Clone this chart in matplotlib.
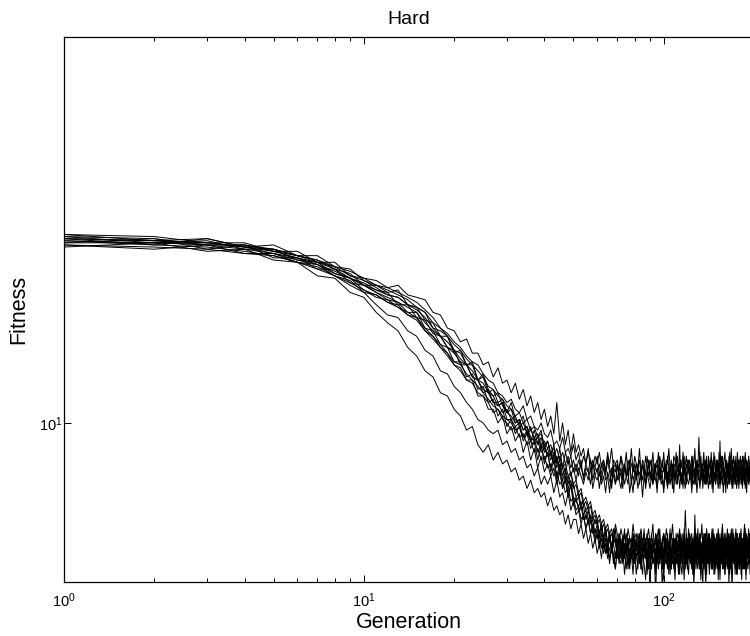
import numpy as np
import matplotlib
matplotlib.use("Agg")
import matplotlib.pyplot as plt
from matplotlib.ticker import LogLocator, NullFormatter, NullLocator

plt.rcParams['font.family'] = ['Liberation Sans', 'DejaVu Sans']
plt.rcParams['mathtext.fontset'] = 'custom'
plt.rcParams['mathtext.rm'] = 'Liberation Sans'
plt.rcParams['mathtext.default'] = 'regular'

# fitness per generation for each run (generation 1..200)
# runs that settle in the upper band
run_u1 = [
    16.9, 16.6, 16.9, 16.5, 16.4, 16.1, 15.9, 15.5, 15.3, 14.8,
    14.8, 14.5, 14.6, 14.0, 13.9, 13.7, 13.1, 13.0, 12.8, 12.2,
    12.3, 11.8, 11.9, 11.3, 11.5, 11.0, 10.8, 10.9, 10.5, 10.3,
    10.6, 10.1, 10.0, 10.2, 9.7, 9.9, 9.5, 9.6, 9.8, 9.3,
    9.5, 9.1, 9.4, 8.9, 9.3, 8.8, 9.2, 8.9, 9.1, 8.7,
    8.9, 8.6, 9.0, 8.5, 8.8, 8.7, 8.4, 8.9, 8.6, 8.8,
    8.3, 8.7, 8.9, 8.5, 8.6, 8.2, 8.8, 8.6, 8.4, 8.9,
    8.5, 8.7, 8.3, 8.8, 8.6, 8.4, 8.9, 8.5, 8.2, 8.7,
    8.6, 8.9, 8.4, 8.7, 8.5, 8.8, 8.3, 8.6, 9.0, 8.5,
    8.7, 8.4, 8.6, 8.9, 8.2, 8.7, 8.5, 8.8, 8.6, 8.3,
    8.8, 8.5, 8.7, 8.4, 8.9, 8.6, 8.3, 8.7, 8.5, 8.8,
    8.4, 8.6, 9.4, 8.5, 8.7, 8.3, 8.8, 8.6, 8.4, 8.7,
    8.9, 8.5, 8.6, 8.2, 8.8, 8.7, 8.4, 8.6, 8.9, 8.5,
    8.7, 8.3, 8.6, 8.8, 8.5, 8.7, 8.4, 9.0, 8.6, 8.5,
    8.8, 8.4, 8.7, 8.6, 8.3, 8.9, 8.5, 8.7, 8.4, 8.8,
    8.6, 8.5, 8.9, 8.3, 8.7, 8.6, 8.4, 8.8, 8.5, 8.7,
    8.2, 8.8, 8.6, 8.5, 8.9, 8.4, 8.7, 8.6, 8.3, 8.8,
    8.5, 8.7, 8.4, 8.9, 8.6, 8.5, 8.8, 8.3, 8.7, 8.6,
    8.9, 8.4, 8.6, 8.7, 8.5, 8.8, 8.3, 8.6, 8.9, 8.5,
    8.7, 8.4, 8.8, 8.6, 8.5, 8.7, 8.4, 8.9, 8.6, 8.5,
]
run_u2 = [
    17.1, 16.8, 16.9, 16.5, 16.6, 16.1, 16.1, 15.6, 15.5, 15.0,
    14.8, 14.7, 14.5, 14.3, 14.1, 13.8, 13.5, 13.1, 12.9, 12.6,
    12.4, 12.1, 11.9, 11.8, 11.5, 11.3, 11.2, 10.9, 10.8, 10.6,
    10.7, 10.4, 10.3, 10.5, 10.1, 10.2, 9.9, 9.8, 10.0, 9.7,
    9.6, 9.8, 9.4, 9.5, 9.3, 9.6, 9.2, 9.3, 9.1, 9.4,
    9.0, 9.2, 8.8, 9.1, 8.9, 9.3, 8.7, 9.0, 8.8, 9.1,
    8.6, 8.9, 9.0, 8.7, 9.2, 8.8, 8.6, 9.0, 8.9, 8.5,
    8.8, 9.1, 8.7, 8.9, 8.6, 9.0, 8.8, 9.3, 8.7, 8.9,
    8.5, 8.8, 9.0, 8.6, 8.9, 8.7, 9.1, 8.8, 8.6, 8.9,
    9.0, 8.7, 8.5, 8.9, 8.8, 9.2, 8.6, 8.8, 9.0, 8.7,
    8.9, 8.6, 9.1, 8.8, 8.7, 9.0, 8.5, 8.9, 8.8, 9.2,
    8.7, 8.9, 8.6, 9.0, 8.8, 8.7, 9.1, 8.6, 8.9, 8.8,
    9.0, 8.7, 8.9, 8.5, 9.1, 8.8, 8.6, 9.0, 8.7, 8.9,
    8.8, 9.2, 8.6, 8.9, 8.7, 9.0, 8.8, 8.5, 9.1, 8.7,
    8.9, 8.8, 9.0, 8.6, 8.9, 8.7, 9.2, 8.8, 8.6, 9.0,
    8.7, 8.9, 8.5, 9.5, 8.8, 8.7, 9.1, 8.9, 8.6, 8.8,
    9.0, 8.7, 8.9, 8.8, 8.6, 9.2, 8.7, 8.9, 9.0, 8.6,
    8.8, 8.9, 8.7, 9.1, 8.6, 8.8, 9.0, 8.7, 8.9, 8.8,
    8.6, 9.0, 8.8, 8.7, 9.1, 8.9, 8.6, 8.8, 9.0, 8.7,
    8.9, 8.8, 8.6, 9.0, 8.7, 8.9, 9.1, 8.8, 8.6, 8.9,
]
run_u3 = [
    16.7, 16.9, 16.4, 16.6, 16.0, 16.0, 15.5, 15.5, 14.9, 14.8,
    14.5, 14.3, 14.1, 13.9, 13.7, 13.3, 13.0, 12.8, 12.4, 12.2,
    11.9, 11.8, 11.4, 11.3, 11.0, 10.9, 10.6, 10.6, 10.3, 10.4,
    10.1, 10.2, 9.9, 10.0, 9.7, 9.8, 9.6, 9.7, 9.4, 9.5,
    9.3, 9.4, 9.1, 9.3, 9.0, 9.2, 8.9, 9.1, 8.8, 9.0,
    8.7, 9.0, 8.8, 8.6, 8.9, 8.7, 9.0, 8.5, 8.8, 8.7,
    8.9, 8.5, 8.8, 8.6, 9.0, 8.7, 8.4, 8.8, 8.7, 8.9,
    8.6, 8.8, 8.5, 8.9, 8.7, 8.6, 9.0, 8.4, 8.8, 8.7,
    8.9, 8.6, 8.7, 8.5, 8.9, 8.8, 8.4, 8.7, 8.9, 8.6,
    8.8, 8.5, 8.9, 8.7, 8.6, 8.8, 9.0, 8.5, 8.7, 8.8,
    8.6, 8.9, 8.4, 8.8, 8.7, 8.5, 8.9, 8.6, 8.8, 8.7,
    8.5, 8.8, 8.9, 8.6, 8.4, 8.9, 8.7, 8.8, 8.5, 9.0,
    8.7, 8.6, 8.8, 8.9, 8.5, 8.7, 8.8, 8.4, 8.9, 8.6,
    8.8, 8.7, 8.5, 8.9, 8.6, 8.8, 8.7, 8.9, 8.4, 8.7,
    8.6, 8.9, 8.8, 8.5, 8.7, 8.9, 8.6, 8.5, 8.8, 8.7,
    8.9, 8.6, 8.7, 8.8, 8.4, 8.9, 8.7, 8.6, 8.8, 8.5,
    8.7, 8.9, 8.6, 8.8, 8.7, 8.5, 8.9, 8.8, 8.6, 8.7,
    8.8, 8.5, 8.9, 8.7, 8.6, 8.8, 8.4, 8.7, 8.9, 8.6,
    8.7, 8.8, 8.5, 8.9, 8.6, 8.7, 8.8, 8.5, 8.9, 8.7,
    8.6, 8.8, 8.7, 8.5, 8.9, 8.6, 8.8, 8.7, 8.5, 8.8,
]
run_u4 = [
    16.9, 16.8, 16.7, 16.5, 16.3, 16.1, 15.9, 15.6, 15.4, 15.1,
    15.0, 14.7, 14.8, 14.4, 14.3, 14.2, 13.7, 13.6, 13.1, 13.0,
    12.6, 12.7, 12.2, 12.2, 11.8, 11.9, 11.4, 11.7, 11.2, 11.3,
    10.9, 11.2, 10.7, 11.0, 10.5, 10.8, 10.3, 10.6, 10.1, 10.4,
    9.9, 10.2, 9.7, 10.6, 9.5, 10.0, 9.4, 9.8, 9.2, 9.7,
    9.2, 9.4, 9.1, 9.3, 8.9, 9.2, 9.0, 8.8, 9.1, 8.9,
    9.2, 8.8, 9.0, 8.7, 9.1, 8.9, 9.3, 8.8, 8.9, 9.0,
    8.7, 9.1, 8.9, 8.8, 9.2, 8.6, 9.0, 8.9, 8.7, 9.1,
    8.9, 8.8, 9.3, 8.7, 9.0, 8.9, 8.6, 9.1, 8.8, 9.0,
    8.8, 9.2, 8.7, 8.9, 9.0, 8.6, 9.1, 8.9, 8.8, 9.2,
    8.7, 9.0, 8.9, 9.3, 8.8, 8.9, 8.6, 9.1, 9.0, 8.8,
    9.1, 8.7, 8.9, 9.0, 8.8, 9.2, 8.7, 8.9, 9.1, 8.8,
    8.9, 9.0, 8.7, 9.1, 8.8, 8.9, 9.3, 8.7, 9.0, 8.8,
    9.6, 8.8, 9.1, 8.7, 8.9, 9.2, 8.8, 9.0, 8.9, 8.6,
    9.1, 8.9, 8.8, 9.2, 8.7, 9.0, 8.9, 9.1, 8.8, 8.9,
    9.0, 8.7, 9.2, 8.9, 8.8, 9.1, 8.9, 8.7, 9.0, 9.2,
    8.8, 9.0, 8.9, 8.7, 9.1, 8.8, 9.0, 9.3, 8.8, 8.9,
    9.1, 8.8, 9.0, 8.9, 8.7, 9.2, 8.9, 9.0, 8.8, 9.1,
    8.9, 8.7, 9.1, 9.0, 8.8, 8.9, 9.2, 8.8, 9.0, 8.9,
    8.8, 9.1, 8.9, 8.7, 9.0, 9.2, 8.8, 8.9, 9.1, 8.8,
]
run_u5 = [
    16.6, 16.5, 16.4, 16.2, 16.1, 15.8, 15.5, 15.2, 14.9, 14.6,
    14.3, 14.2, 13.9, 13.7, 13.5, 13.1, 12.8, 12.5, 12.2, 11.9,
    11.8, 11.5, 11.3, 11.1, 10.9, 10.7, 10.5, 10.4, 10.2, 10.1,
    10.0, 9.8, 9.9, 9.6, 9.7, 9.5, 9.4, 9.5, 9.2, 9.3,
    9.1, 9.2, 8.9, 9.1, 8.8, 8.9, 8.7, 9.0, 8.6, 8.8,
    8.5, 8.8, 8.6, 8.4, 8.7, 8.5, 8.8, 8.3, 8.6, 8.5,
    8.7, 8.4, 8.6, 8.2, 8.7, 8.5, 8.3, 8.8, 8.4, 8.6,
    8.5, 8.3, 8.7, 8.4, 8.6, 8.8, 8.2, 8.5, 8.6, 8.4,
    8.7, 8.3, 8.5, 8.6, 8.1, 8.6, 8.4, 8.7, 8.5, 8.3,
    8.6, 8.4, 8.7, 8.5, 8.3, 8.6, 8.8, 8.4, 8.5, 8.2,
    8.6, 8.5, 8.3, 8.7, 8.4, 8.6, 8.5, 8.2, 8.7, 8.4,
    8.5, 8.7, 8.3, 8.6, 8.4, 8.8, 8.5, 8.3, 8.6, 8.5,
    8.4, 8.6, 8.7, 8.3, 8.5, 8.4, 8.7, 8.6, 8.2, 8.5,
    8.6, 8.4, 8.5, 8.7, 8.3, 8.6, 8.5, 8.4, 8.8, 8.5,
    8.3, 8.6, 8.4, 8.5, 8.7, 8.2, 8.6, 8.5, 8.4, 8.7,
    8.5, 8.3, 8.6, 8.4, 8.7, 8.5, 8.6, 8.2, 8.5, 8.4,
    8.7, 8.5, 8.3, 8.6, 8.4, 8.5, 8.8, 8.4, 8.6, 8.3,
    8.5, 8.6, 8.4, 8.7, 8.3, 8.5, 8.6, 8.4, 8.5, 8.7,
    8.4, 8.6, 8.3, 8.5, 8.7, 8.4, 8.6, 8.5, 8.2, 8.6,
    8.5, 8.4, 8.7, 8.5, 8.3, 8.6, 8.4, 8.5, 8.7, 8.4,
]
# runs that settle in the lower band
run_l1 = [
    16.5, 16.7, 16.3, 16.4, 15.9, 15.8, 15.2, 15.1, 14.5, 14.3,
    13.7, 13.3, 13.0, 12.4, 12.1, 11.6, 11.4, 10.9, 10.8, 10.4,
    10.2, 9.8, 9.9, 9.4, 9.2, 9.4, 9.0, 9.2, 8.9, 9.0,
    8.7, 8.8, 8.5, 8.6, 8.3, 8.5, 8.2, 8.3, 8.1, 8.2,
    7.9, 8.1, 7.8, 7.9, 7.7, 7.8, 7.5, 7.7, 7.4, 7.6,
    7.6, 7.3, 7.5, 7.2, 7.4, 7.1, 7.3, 7.0, 7.2, 6.9,
    7.1, 6.8, 7.2, 6.9, 7.0, 6.7, 7.1, 6.8, 6.6, 7.0,
    6.8, 7.2, 6.7, 6.9, 7.1, 6.6, 7.0, 6.8, 7.3, 6.7,
    6.9, 6.6, 7.1, 6.8, 6.5, 7.0, 6.9, 6.7, 7.2, 6.8,
    6.6, 7.0, 6.9, 6.1, 7.1, 6.8, 6.7, 7.0, 6.6, 6.9,
    7.2, 6.7, 6.9, 6.5, 7.0, 6.8, 7.1, 6.6, 6.9, 6.7,
    7.0, 6.5, 6.9, 7.1, 6.7, 6.8, 6.4, 7.0, 6.9, 6.6,
    7.1, 6.8, 6.7, 7.0, 6.5, 6.9, 7.2, 6.6, 6.8, 7.0,
    6.7, 6.9, 6.4, 7.1, 6.8, 6.6, 7.0, 6.9, 6.5, 7.2,
    6.8, 6.7, 7.0, 6.6, 6.9, 7.1, 6.5, 6.8, 7.0, 6.7,
    6.9, 6.4, 7.1, 6.8, 6.7, 7.0, 6.6, 6.9, 7.2, 6.5,
    6.8, 7.0, 6.7, 6.9, 6.3, 7.1, 6.8, 6.6, 7.0, 6.9,
    6.7, 7.2, 6.5, 6.9, 6.8, 7.0, 6.6, 6.9, 6.7, 7.1,
    6.5, 6.9, 6.8, 7.0, 6.6, 6.7, 7.1, 6.4, 6.9, 6.8,
    7.0, 6.7, 6.9, 6.5, 7.1, 6.8, 6.6, 7.0, 6.9, 6.7,
]
run_l2 = [
    16.8, 16.6, 16.5, 16.3, 16.1, 15.8, 15.6, 15.2, 14.8, 14.5,
    14.0, 13.6, 13.5, 13.0, 12.8, 12.3, 12.1, 11.6, 11.5, 11.1,
    10.9, 10.6, 10.4, 10.1, 10.0, 9.8, 9.7, 9.8, 9.4, 9.5,
    9.2, 9.3, 9.0, 9.1, 8.8, 8.9, 8.6, 8.8, 8.4, 8.6,
    8.4, 8.6, 8.2, 8.5, 8.1, 8.2, 7.9, 8.2, 7.8, 8.0,
    7.7, 7.8, 7.5, 7.7, 7.4, 7.6, 7.3, 7.5, 7.2, 7.4,
    7.1, 7.3, 7.0, 7.2, 6.9, 7.3, 7.0, 7.1, 6.8, 7.2,
    7.0, 6.8, 7.1, 7.3, 6.9, 7.0, 6.7, 7.2, 7.0, 6.8,
    7.1, 7.0, 6.7, 7.3, 6.9, 7.1, 6.8, 7.0, 6.6, 7.2,
    6.9, 7.1, 7.0, 6.7, 7.2, 6.9, 6.8, 7.1, 7.0, 6.6,
    7.1, 6.9, 7.3, 6.8, 7.0, 6.7, 7.1, 6.9, 7.2, 6.8,
    7.0, 7.1, 6.6, 7.0, 6.9, 7.2, 6.8, 7.0, 6.7, 7.1,
    6.9, 7.3, 6.8, 7.0, 7.1, 6.7, 6.9, 7.2, 6.8, 7.0,
    7.1, 6.6, 7.0, 6.9, 7.2, 6.8, 7.1, 6.7, 7.0, 6.9,
    7.2, 6.8, 6.9, 7.1, 6.6, 7.0, 7.2, 6.9, 6.8, 7.1,
    6.9, 7.0, 6.7, 7.2, 6.9, 7.1, 6.8, 7.0, 6.6, 7.1,
    7.0, 6.8, 7.2, 6.9, 7.1, 6.7, 7.0, 6.9, 7.3, 6.8,
    7.0, 7.1, 6.7, 6.9, 7.2, 6.8, 7.0, 7.1, 6.6, 6.9,
    7.1, 6.8, 7.0, 7.2, 6.9, 6.7, 7.1, 7.0, 6.8, 7.2,
    6.9, 7.0, 6.7, 7.1, 6.9, 7.2, 6.8, 7.0, 7.1, 6.7,
]
run_l3 = [
    17.0, 16.7, 16.8, 16.4, 16.4, 15.9, 15.8, 15.3, 15.1, 14.6,
    14.4, 14.1, 14.0, 13.6, 13.5, 13.0, 12.8, 12.4, 12.2, 11.8,
    11.7, 11.3, 11.3, 10.8, 10.8, 10.4, 10.4, 10.0, 10.2, 9.7,
    9.9, 9.5, 9.7, 9.2, 9.5, 9.0, 9.3, 8.8, 9.1, 8.7,
    8.9, 8.6, 8.8, 8.4, 8.7, 8.3, 8.5, 8.1, 8.4, 8.0,
    8.0, 7.9, 8.0, 7.7, 7.8, 7.6, 7.7, 7.4, 7.6, 7.5,
    7.3, 7.5, 7.2, 7.4, 7.1, 7.3, 7.0, 7.4, 7.2, 6.9,
    7.3, 7.1, 7.0, 7.4, 6.9, 7.2, 7.1, 6.8, 7.3, 7.0,
    7.2, 6.9, 7.3, 7.1, 7.0, 7.4, 6.8, 7.1, 7.2, 6.9,
    7.3, 7.0, 7.1, 6.8, 7.2, 7.4, 6.9, 7.1, 7.0, 7.3,
    6.9, 7.2, 7.1, 7.0, 7.4, 6.8, 7.2, 7.1, 6.9, 7.3,
    7.0, 7.2, 6.9, 7.3, 7.1, 7.0, 7.4, 6.8, 7.2, 7.1,
    7.0, 7.3, 6.9, 7.1, 7.2, 6.8, 7.7, 7.0, 7.1, 7.4,
    6.9, 7.2, 7.0, 7.1, 6.8, 7.3, 7.1, 7.0, 7.2, 6.9,
    7.3, 7.0, 7.2, 6.9, 7.1, 7.4, 7.0, 6.8, 7.2, 7.1,
    7.0, 7.3, 6.9, 7.1, 7.2, 7.0, 7.4, 6.9, 7.1, 7.0,
    7.2, 6.8, 7.1, 7.3, 7.0, 7.2, 6.9, 7.1, 7.0, 7.4,
    6.9, 7.1, 7.2, 7.0, 7.3, 6.8, 7.1, 7.2, 7.0, 6.9,
    7.3, 7.1, 7.0, 7.2, 6.9, 7.1, 7.4, 7.0, 7.2, 6.9,
    7.1, 7.0, 7.3, 6.9, 7.2, 7.1, 7.0, 7.3, 6.8, 7.1,
]
run_l4 = [
    16.9, 16.8, 16.6, 16.6, 16.3, 16.0, 15.8, 15.5, 15.1, 14.9,
    14.6, 14.4, 14.3, 14.0, 13.8, 13.5, 13.1, 12.8, 12.6, 12.3,
    12.0, 11.8, 11.6, 11.3, 11.2, 10.9, 10.8, 10.5, 10.6, 10.3,
    10.2, 10.0, 10.1, 9.8, 9.9, 9.6, 9.5, 9.6, 9.3, 9.4,
    9.1, 9.2, 8.9, 9.0, 8.7, 8.8, 8.5, 8.6, 8.3, 8.4,
    8.1, 8.2, 7.9, 8.0, 7.8, 7.9, 7.6, 7.7, 7.5, 7.6,
    7.3, 7.5, 7.2, 7.4, 7.1, 7.3, 7.0, 7.2, 7.1, 6.9,
    7.2, 7.0, 6.8, 7.1, 6.9, 7.2, 6.7, 7.0, 7.1, 6.8,
    7.0, 6.9, 7.2, 6.7, 7.1, 6.9, 7.0, 6.6, 7.1, 7.0,
    6.8, 7.2, 6.9, 7.0, 6.7, 7.1, 6.9, 6.8, 7.2, 6.9,
    7.0, 6.7, 7.1, 6.9, 7.2, 6.8, 7.0, 6.9, 6.6, 7.1,
    6.9, 7.0, 7.2, 6.7, 7.0, 6.9, 7.1, 6.8, 7.0, 7.2,
    6.8, 6.9, 7.1, 7.0, 6.6, 7.1, 6.9, 7.0, 7.2, 6.8,
    7.0, 6.9, 7.1, 6.7, 6.3, 7.2, 6.8, 6.9, 7.1, 7.0,
    6.7, 7.1, 6.9, 7.0, 7.2, 6.8, 7.0, 6.9, 6.6, 7.1,
    7.0, 6.8, 7.2, 6.9, 7.0, 6.7, 7.1, 7.0, 6.9, 7.2,
    6.8, 7.0, 6.9, 7.1, 6.7, 7.0, 7.2, 6.9, 6.8, 7.0,
    7.1, 6.9, 7.0, 6.6, 7.1, 6.9, 7.0, 7.2, 6.8, 7.0,
    6.9, 7.1, 6.7, 7.0, 7.2, 6.9, 6.8, 7.1, 7.0, 6.9,
    7.2, 6.8, 7.0, 6.9, 7.1, 6.7, 7.0, 7.2, 6.9, 7.0,
]
run_l5 = [
    16.7, 16.7, 16.6, 16.4, 16.2, 16.0, 15.7, 15.3, 15.1, 14.8,
    14.5, 14.2, 14.1, 13.7, 13.7, 13.1, 13.0, 12.5, 12.4, 11.9,
    11.9, 11.4, 11.5, 11.0, 11.1, 10.6, 10.7, 10.2, 10.4, 9.9,
    10.1, 9.7, 9.9, 9.5, 9.7, 9.3, 9.5, 9.0, 9.4, 8.9,
    9.2, 8.7, 9.0, 8.5, 8.8, 8.3, 8.6, 8.1, 8.4, 7.9,
    8.1, 7.8, 7.9, 7.6, 7.7, 7.5, 7.6, 7.3, 7.4, 7.2,
    7.3, 7.0, 7.2, 6.9, 7.1, 6.8, 7.0, 6.9, 6.6, 7.0,
    6.8, 6.7, 7.0, 6.5, 6.9, 6.8, 6.6, 7.0, 6.7, 6.9,
    6.5, 6.8, 7.0, 6.6, 6.9, 6.7, 6.4, 6.9, 6.8, 6.6,
    7.0, 6.7, 6.8, 6.5, 6.9, 6.6, 7.0, 6.8, 6.2, 6.9,
    6.7, 6.8, 6.6, 7.0, 6.5, 6.9, 6.7, 6.8, 6.4, 6.9,
    6.8, 6.6, 7.0, 6.7, 6.5, 6.9, 6.8, 6.6, 7.1, 6.7,
    6.5, 6.9, 6.8, 6.6, 6.9, 6.3, 6.8, 7.0, 6.7, 6.6,
    6.9, 6.7, 6.5, 6.8, 7.0, 6.6, 6.8, 6.4, 6.9, 6.7,
    6.8, 6.5, 6.9, 6.7, 6.6, 7.0, 6.8, 6.5, 6.9, 6.7,
    6.6, 6.9, 6.8, 6.4, 6.8, 6.7, 7.0, 6.6, 6.8, 6.5,
    6.9, 6.7, 6.6, 7.0, 6.8, 6.5, 6.9, 6.7, 6.2, 6.8,
    6.7, 6.9, 6.6, 6.8, 6.5, 7.0, 6.7, 6.8, 6.6, 6.9,
    6.8, 6.4, 6.9, 6.7, 6.8, 6.6, 7.0, 6.5, 6.8, 6.7,
    6.6, 6.9, 6.7, 6.8, 6.4, 6.9, 6.7, 6.6, 7.0, 6.8,
]
run_l6 = [
    17.1, 17.0, 16.7, 16.7, 16.3, 16.3, 15.8, 15.8, 15.2, 15.1,
    14.8, 14.6, 14.4, 14.2, 13.9, 13.7, 13.3, 13.1, 12.8, 12.5,
    12.3, 12.0, 11.8, 11.6, 11.4, 11.1, 11.0, 10.8, 10.7, 10.5,
    10.4, 10.2, 10.3, 10.0, 10.1, 9.8, 9.9, 9.6, 9.7, 9.4,
    9.5, 9.2, 9.3, 9.0, 9.1, 8.8, 8.9, 8.6, 8.7, 8.4,
    8.5, 8.2, 8.3, 8.0, 8.1, 7.9, 8.0, 7.7, 7.8, 7.6,
    7.7, 7.5, 7.6, 7.4, 7.5, 7.3, 7.4, 7.2, 7.5, 7.3,
    7.1, 7.4, 7.2, 7.3, 7.0, 7.4, 7.2, 7.1, 7.5, 7.2,
    7.3, 7.0, 7.2, 7.4, 7.1, 7.3, 6.9, 7.2, 7.4, 7.1,
    7.2, 7.5, 7.0, 7.3, 7.2, 7.1, 7.4, 6.9, 7.2, 7.3,
    7.1, 7.4, 7.2, 7.0, 7.3, 7.2, 7.5, 7.1, 7.2, 7.0,
    7.3, 7.2, 7.4, 7.0, 7.2, 7.3, 7.1, 7.8, 7.2, 7.0,
    7.4, 7.1, 7.2, 7.3, 6.9, 7.2, 7.4, 7.1, 7.3, 7.2,
    7.0, 7.3, 7.2, 7.5, 7.1, 7.2, 7.3, 7.0, 7.4, 7.2,
    7.1, 7.3, 7.0, 7.2, 7.4, 7.1, 7.3, 7.2, 6.9, 7.3,
    7.2, 7.4, 7.1, 7.2, 7.0, 7.3, 7.5, 7.1, 7.2, 7.3,
    7.0, 7.2, 7.4, 7.1, 7.3, 7.2, 7.0, 7.4, 7.2, 7.1,
    7.3, 7.0, 7.2, 7.4, 7.1, 7.3, 7.2, 6.9, 7.3, 7.2,
    7.4, 7.1, 7.2, 7.0, 7.3, 7.5, 7.1, 7.2, 7.3, 7.0,
    7.2, 7.4, 7.1, 7.3, 7.2, 7.0, 7.4, 7.2, 7.1, 7.3,
]
run_l7 = [
    16.8, 16.7, 16.7, 16.5, 16.2, 15.9, 15.7, 15.4, 15.1, 14.8,
    14.6, 14.5, 14.0, 14.0, 13.5, 13.4, 12.9, 12.8, 12.4, 12.3,
    11.8, 11.8, 11.4, 11.3, 10.9, 11.0, 10.6, 10.5, 10.6, 10.1,
    10.1, 9.9, 10.0, 9.6, 9.8, 9.5, 9.6, 9.2, 9.4, 9.0,
    9.2, 8.8, 9.1, 8.6, 8.9, 8.5, 8.7, 8.3, 8.5, 8.1,
    8.0, 8.1, 7.8, 7.9, 7.6, 7.8, 7.5, 7.6, 7.3, 7.5,
    7.2, 7.4, 7.1, 7.3, 7.0, 7.2, 6.9, 7.1, 7.2, 6.8,
    7.1, 6.9, 7.2, 6.8, 7.0, 7.1, 6.7, 7.0, 6.9, 7.2,
    6.8, 7.0, 7.1, 6.7, 7.0, 6.9, 7.2, 6.8, 7.0, 6.2,
    7.1, 6.9, 7.0, 7.2, 6.7, 7.0, 6.9, 7.1, 6.8, 7.0,
    6.9, 7.2, 6.8, 7.0, 7.1, 6.6, 7.0, 7.2, 6.9, 7.0,
    6.7, 7.1, 7.0, 6.9, 7.2, 6.8, 6.9, 7.1, 7.0, 6.7,
    7.1, 7.0, 6.8, 7.2, 6.9, 7.0, 6.7, 7.1, 6.9, 7.0,
    7.2, 6.8, 7.0, 6.9, 7.1, 6.7, 7.0, 7.2, 6.8, 7.0,
    6.9, 7.1, 6.8, 7.0, 6.9, 7.2, 6.7, 7.0, 7.1, 6.9,
    7.0, 6.7, 7.1, 7.0, 6.8, 7.2, 6.9, 7.0, 7.1, 6.8,
    7.1, 6.9, 7.0, 6.7, 7.2, 7.0, 6.8, 7.1, 6.9, 7.0,
    6.8, 7.0, 7.1, 6.9, 7.0, 6.7, 7.2, 6.9, 7.0, 7.1,
    6.9, 7.0, 6.8, 7.1, 6.9, 7.2, 7.0, 6.7, 7.0, 7.1,
    6.8, 7.1, 7.0, 6.9, 7.2, 6.8, 7.0, 6.9, 7.1, 6.9,
]
run_l8 = [
    16.6, 16.4, 16.6, 16.2, 16.2, 15.8, 15.7, 15.2, 15.0, 14.5,
    14.4, 14.1, 13.9, 13.6, 13.4, 13.0, 12.7, 12.4, 12.1, 11.8,
    11.6, 11.3, 11.2, 10.9, 10.8, 10.6, 10.3, 10.4, 10.1, 10.0,
    9.8, 9.9, 9.6, 9.7, 9.4, 9.5, 9.2, 9.3, 9.0, 9.1,
    8.8, 8.9, 8.6, 8.7, 8.4, 8.5, 8.2, 8.3, 8.0, 8.1,
    7.8, 7.9, 7.6, 7.7, 7.4, 7.6, 7.3, 7.4, 7.1, 7.3,
    7.0, 7.2, 6.9, 7.1, 6.8, 7.0, 7.1, 6.7, 6.9, 7.0,
    6.7, 7.0, 6.8, 6.9, 6.6, 7.1, 6.8, 6.9, 6.5, 7.0,
    6.8, 6.9, 7.1, 6.6, 6.9, 6.8, 7.0, 6.5, 6.9, 6.8,
    7.0, 6.7, 6.9, 6.6, 7.1, 6.8, 6.7, 7.0, 6.9, 6.4,
    6.9, 7.0, 6.7, 6.8, 7.1, 6.6, 6.9, 6.8, 7.0, 6.7,
    6.8, 6.9, 6.5, 7.0, 6.8, 6.9, 6.7, 7.1, 6.8, 6.6,
    7.0, 6.8, 6.9, 6.7, 7.0, 6.5, 6.9, 6.8, 7.1, 6.7,
    6.9, 6.6, 7.0, 6.8, 6.7, 7.0, 6.9, 6.3, 6.8, 7.0,
    6.7, 6.9, 6.8, 7.1, 6.6, 6.9, 6.8, 7.0, 6.7, 6.9,
    6.8, 7.0, 6.6, 6.9, 6.8, 6.7, 7.1, 6.8, 6.9, 6.6,
    7.0, 6.8, 6.9, 6.7, 7.0, 6.8, 6.6, 6.9, 7.1, 6.8,
    6.9, 6.7, 7.0, 6.8, 6.9, 6.5, 7.0, 6.8, 6.9, 6.7,
    7.0, 6.9, 6.6, 6.8, 7.1, 6.7, 6.9, 6.8, 6.6, 7.0,
    6.8, 6.9, 6.7, 7.0, 6.8, 6.6, 6.9, 7.1, 6.8, 6.9,
]
run_l9 = [
    17.0, 16.9, 16.6, 16.6, 16.4, 16.1, 15.8, 15.6, 15.2, 15.0,
    14.7, 14.4, 14.3, 14.0, 13.9, 13.4, 13.3, 12.8, 12.8, 12.3,
    12.2, 11.8, 11.8, 11.3, 11.4, 10.9, 11.0, 10.6, 10.7, 10.3,
    10.4, 10.0, 10.1, 9.8, 9.9, 9.5, 9.8, 9.4, 9.6, 9.2,
    9.3, 9.0, 9.2, 8.8, 9.0, 8.6, 8.8, 8.4, 8.7, 8.3,
    8.4, 8.1, 8.2, 7.9, 8.0, 7.8, 7.9, 7.6, 7.7, 7.5,
    7.6, 7.4, 7.5, 7.3, 7.4, 7.2, 7.3, 7.1, 7.4, 7.0,
    7.3, 7.1, 7.2, 6.9, 7.3, 7.0, 7.2, 7.1, 6.8, 7.2,
    7.0, 7.3, 7.1, 6.9, 7.2, 7.0, 7.1, 7.3, 6.8, 7.1,
    7.2, 7.0, 6.9, 7.3, 7.1, 7.0, 7.2, 6.9, 7.1, 7.3,
    7.0, 7.1, 7.2, 6.8, 7.1, 7.3, 7.0, 7.1, 6.9, 7.2,
    7.1, 7.0, 7.3, 7.1, 6.9, 7.2, 7.0, 7.1, 7.3, 6.9,
    7.2, 7.1, 7.0, 6.8, 7.2, 7.1, 7.3, 7.0, 6.9, 7.2,
    7.1, 7.3, 6.9, 7.1, 7.2, 7.0, 7.1, 7.3, 6.9, 7.1,
    7.0, 7.2, 7.1, 6.9, 7.3, 7.1, 7.0, 7.2, 7.1, 6.8,
    7.2, 7.0, 7.1, 7.3, 6.9, 7.1, 7.2, 7.0, 7.1, 7.3,
    6.9, 7.2, 7.1, 7.0, 7.2, 6.9, 7.3, 7.1, 7.0, 7.2,
    7.1, 6.9, 7.2, 7.0, 7.1, 7.3, 7.0, 7.1, 6.9, 7.2,
    7.0, 7.2, 7.1, 6.9, 7.3, 7.0, 7.1, 7.2, 6.9, 7.1,
    7.2, 7.0, 7.1, 7.3, 6.9, 7.1, 7.2, 7.0, 7.1, 6.9,
]

runs = [run_u1, run_u2, run_u3, run_u4, run_u5,
        run_l1, run_l2, run_l3, run_l4, run_l5, run_l6, run_l7, run_l8, run_l9]

title = "Hard"
x_label = "Generation"
y_label = "Fitness"

fig = plt.figure(figsize=(7.5, 6.36), dpi=100)
# axes runs slightly past the right edge of the picture, like the original crop
ax = fig.add_axes([64 / 750, 54 / 636, 690 / 750, 545 / 636])

for r in runs:
    gens = np.arange(1, len(r) + 1)
    ax.plot(gens, r, color='k', lw=0.7)

ax.set_xscale('log')
ax.set_yscale('log')
ax.set_xlim(1, 200)
ax.set_ylim(6.36, 30)

ax.xaxis.set_major_locator(LogLocator(base=10))
ax.xaxis.set_minor_locator(LogLocator(base=10, subs=np.arange(2, 10)))
ax.xaxis.set_minor_formatter(NullFormatter())
ax.yaxis.set_major_locator(LogLocator(base=10))
ax.yaxis.set_minor_locator(NullLocator())

ax.tick_params(which='both', direction='in', top=True, right=True, labelsize=10.5, width=0.7)
ax.tick_params(which='major', length=5)
ax.tick_params(which='minor', length=3)
ax.tick_params(axis='x', pad=7)
ax.tick_params(axis='y', pad=1)
for s in ax.spines.values():
    s.set_linewidth(0.9)

ax.set_title(title, fontsize=14, pad=9.5)
ax.set_xlabel(x_label, fontsize=15.5, labelpad=1)
ax.set_ylabel(y_label, fontsize=15.5, labelpad=7)

fig.savefig("out.png", dpi=100)
